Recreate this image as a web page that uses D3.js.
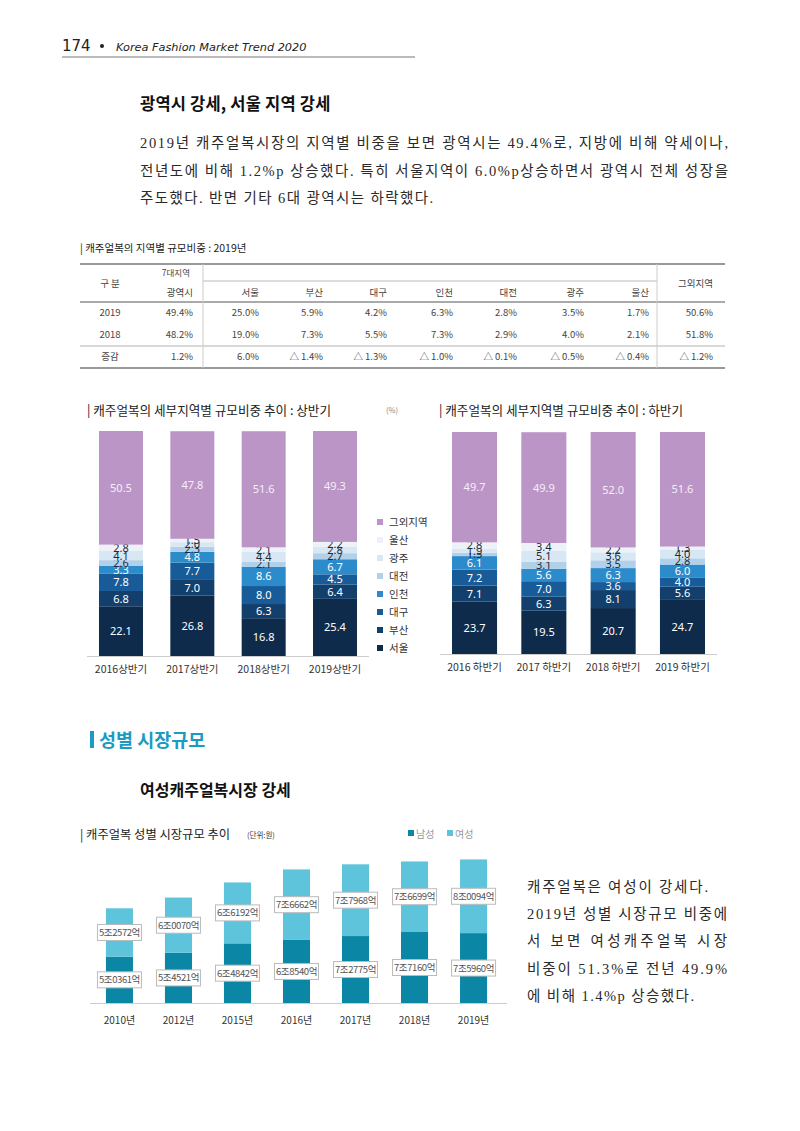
<!DOCTYPE html>
<html><head><meta charset="utf-8">
<script src="https://cdn.jsdelivr.net/npm/d3@7"></script>
<style>
body{margin:0;background:#fff;}
svg{display:block;}
.kr{font-family:"Noto Sans CJK KR","Noto Sans",sans-serif;}
.ser{font-family:"Liberation Serif","Noto Sans CJK KR",serif;}
</style></head>
<body>
<svg id="page" width="800" height="1131"></svg>
<script>
// ---------- DATA ----------
const regions = ["서울","부산","대구","인천","대전","광주","울산","그외지역"];
const h1Periods = ["2016상반기","2017상반기","2018상반기","2019상반기"];
const h1_2016 = [22.1, 6.8, 7.8, 3.3, 2.6, 4.1, 2.8, 50.5];
const h1_2017 = [26.8, 7.0, 7.7, 4.8, 2.3, 2.0, 1.5, 47.8];
const h1_2018 = [16.8, 6.3, 8.0, 8.6, 2.1, 4.4, 2.1, 51.6];
const h1_2019 = [25.4, 6.4, 4.5, 6.7, 2.7, 2.8, 2.2, 49.3];
const h2Periods = ["2016 하반기","2017 하반기","2018 하반기","2019 하반기"];
const h2_2016 = [23.7, 7.1, 7.2, 6.1, 1.5, 1.9, 2.8, 49.7];
const h2_2017 = [19.5, 6.3, 7.0, 5.6, 3.1, 5.1, 3.4, 49.9];
const h2_2018 = [20.7, 8.1, 3.6, 6.3, 3.5, 3.6, 2.2, 52.0];
const h2_2019 = [24.7, 5.6, 4.0, 6.0, 2.8, 4.0, 1.3, 51.6];

const tableCols = ["광역시","서울","부산","대구","인천","대전","광주","울산","그외지역"];
const row2019 = ["49.4%","25.0%","5.9%","4.2%","6.3%","2.8%","3.5%","1.7%","50.6%"];
const row2018 = ["48.2%","19.0%","7.3%","5.5%","7.3%","2.9%","4.0%","2.1%","51.8%"];
const rowChange = ["1.2%","6.0%","△ 1.4%","△ 1.3%","△ 1.0%","△ 0.1%","△ 0.5%","△ 0.4%","△ 1.2%"];

const genderYears = ["2010년","2012년","2015년","2016년","2017년","2018년","2019년"];
const maleValues = [50361, 54521, 64842, 68540, 72775, 77160, 75960];   // 억원
const femaleValues = [52572, 60070, 66192, 76662, 77968, 76699, 80094]; // 억원

// ---------- STYLE ----------
const regionColors = ["#0f2b4c","#123f6b","#175c98","#2c8bcb","#b1d0e9","#d8e7f4","#edf2f8","#bb95c6"];
const regionText = ["#fff","#fff","#fff","#fff","#1d2b3c","#1d2b3c","#1d2b3c","#f6eef9"];

const svg = d3.select("#page");

// ---------- HEADER ----------
svg.append("text").attr("x",62).attr("y",51).attr("font-family","DejaVu Sans").attr("font-size",15).attr("fill","#222").text("174");
svg.append("circle").attr("cx",102).attr("cy",46).attr("r",2).attr("fill","#222");
svg.append("text").attr("x",116).attr("y",51).attr("font-family","DejaVu Sans").attr("font-style","italic").attr("font-size",11.3).attr("fill","#222").text("Korea Fashion Market Trend 2020");
svg.append("line").attr("x1",62).attr("x2",415).attr("y1",57).attr("y2",57).attr("stroke","#777").attr("stroke-width",1);

// ---------- HEADING + PARAGRAPH ----------
svg.append("text").attr("class","kr").attr("x",140).attr("y",110).attr("font-size",16.5).attr("font-weight","bold").attr("letter-spacing",0.2).attr("fill","#111").text("광역시 강세, 서울 지역 강세");
const para1 = [
  {t:"2019년 캐주얼복시장의 지역별 비중을 보면 광역시는 49.4%로, 지방에 비해 약세이나,", w:588},
  {t:"전년도에 비해 1.2%p 상승했다. 특히 서울지역이 6.0%p상승하면서 광역시 전체 성장을", w:588},
  {t:"주도했다. 반면 기타 6대 광역시는 하락했다.", w:293}
];
para1.forEach((l,i)=>{
  svg.append("text").attr("class","ser").attr("x",140).attr("y",148+i*27.5).attr("font-size",14.5).attr("fill","#2a2a2a")
    .attr("textLength",l.w).attr("lengthAdjust","spacing").text(l.t);
});

// ---------- TABLE ----------
svg.append("text").attr("class","kr").attr("x",80).attr("y",252).attr("font-size",10.5).attr("fill","#222").text("| 캐주얼복의 지역별 규모비중   : 2019년");
const tg = svg.append("g").attr("class","kr").attr("font-size",9.5).attr("fill","#444");
const colRight = [193,259,323,387,453,517,584,649,713];
tg.append("line").attr("x1",80).attr("x2",725).attr("y1",264).attr("y2",264).attr("stroke","#999").attr("stroke-width",2);
tg.append("line").attr("x1",203).attr("x2",657).attr("y1",281).attr("y2",281).attr("stroke","#bbb").attr("stroke-width",1);
tg.append("line").attr("x1",80).attr("x2",725).attr("y1",302).attr("y2",302).attr("stroke","#aaa").attr("stroke-width",2);
tg.append("line").attr("x1",80).attr("x2",725).attr("y1",346).attr("y2",346).attr("stroke","#ccc").attr("stroke-width",1.5);
tg.append("line").attr("x1",80).attr("x2",725).attr("y1",368).attr("y2",368).attr("stroke","#999").attr("stroke-width",2);
[203,657].forEach(x=>tg.append("line").attr("x1",x).attr("x2",x).attr("y1",264).attr("y2",368).attr("stroke","#ccc").attr("stroke-width",1));
tg.append("text").attr("x",110).attr("y",287).attr("text-anchor","middle").text("구 분");
tg.append("text").attr("x",190).attr("y",276).attr("text-anchor","end").attr("font-size",8.5).text("7대지역");
tableCols.forEach((c,i)=>{
  const y = (i===8)?287:296;
  tg.append("text").attr("x",colRight[i]).attr("y",y).attr("text-anchor","end").text(c);
});
[["2019",row2019,316],["2018",row2018,338],["증감",rowChange,360]].forEach(([lab,row,y])=>{
  tg.append("text").attr("x",110).attr("y",y).attr("text-anchor","middle").text(lab);
  row.forEach((v,i)=>tg.append("text").attr("x",colRight[i]).attr("y",y).attr("text-anchor","end").text(v));
});

// ---------- STACKED CHARTS ----------
function stackedChart(periods, rows, x0, x1, pin, pout, yTop, yBot, title, tx) {
  const g = svg.append("g");
  const data = periods.map((p,i)=>{const o={period:p}; regions.forEach((r,j)=>o[r]=rows[i][j]); return o;});
  const series = d3.stack().keys(regions)(data);
  const x = d3.scaleBand().domain(periods).range([x0,x1]).paddingInner(pin).paddingOuter(pout);
  const y = d3.scaleLinear().domain([0,100]).range([yBot,yTop]);
  series.forEach((s,k)=>{
    g.selectAll(null).data(s).enter().append("rect")
      .attr("x",d=>x(d.data.period)).attr("width",x.bandwidth())
      .attr("y",d=>y(d[1])).attr("height",d=>y(d[0])-y(d[1]))
      .attr("fill",regionColors[k]);
    g.selectAll(null).data(s).enter().append("text")
      .attr("x",d=>x(d.data.period)+x.bandwidth()/2)
      .attr("y",d=>(y(d[0])+y(d[1]))/2+4)
      .attr("text-anchor","middle").attr("font-family","Noto Sans, sans-serif").attr("font-size",11)
      .attr("fill",regionText[k])
      .text(d=>d3.format(".1f")(d[1]-d[0]));
  });
  g.append("line").attr("x1",x0).attr("x2",x1).attr("y1",yBot+0.5).attr("y2",yBot+0.5).attr("stroke","#ccc");
  const ax = g.append("g").attr("transform",`translate(0,${yBot})`).call(d3.axisBottom(x).tickSize(0).tickPadding(10));
  ax.select(".domain").remove();
  ax.selectAll("text").attr("class","kr").attr("font-size",10.5).attr("fill","#333");
  svg.append("text").attr("class","kr").attr("x",tx).attr("y",415).attr("font-size",12.6).attr("fill","#222").text(title);
}
stackedChart(h1Periods,[h1_2016,h1_2017,h1_2018,h1_2019],87,369,0.383,0.168,431,656,"| 캐주얼복의  세부지역별 규모비중 추이 : 상반기",87);
stackedChart(h2Periods,[h2_2016,h2_2017,h2_2018,h2_2019],440,717,0.35,0.173,432,654,"| 캐주얼복의  세부지역별 규모비중 추이 : 하반기",439);
svg.append("text").attr("class","kr").attr("x",386).attr("y",413).attr("font-size",7.5).attr("fill","#888").text("(%)");

// legend
const lg = svg.append("g");
regions.slice().reverse().forEach((r,i)=>{
  const k = regions.length-1-i;
  lg.append("rect").attr("x",377).attr("y",519+i*18).attr("width",6).attr("height",6).attr("fill",regionColors[k]);
  lg.append("text").attr("class","kr").attr("x",389).attr("y",526+i*18).attr("font-size",10.5).attr("fill","#333").text(r);
});

// ---------- SECTION ----------
svg.append("rect").attr("x",90).attr("y",731).attr("width",4).attr("height",17).attr("fill","#1b9bc2");
svg.append("text").attr("class","kr").attr("x",99).attr("y",747).attr("font-size",18.5).attr("font-weight","bold").attr("fill","#1b9bc2").text("성별 시장규모");
svg.append("text").attr("class","kr").attr("x",140).attr("y",796).attr("font-size",16).attr("font-weight","bold").attr("fill","#111").text("여성캐주얼복시장 강세");

// ---------- GENDER CHART ----------
svg.append("text").attr("class","kr").attr("x",80).attr("y",839).attr("font-size",12.3).attr("fill","#222").text("| 캐주얼복 성별 시장규모 추이");
svg.append("text").attr("class","kr").attr("x",247).attr("y",838).attr("font-size",7.5).attr("fill","#333").text("(단위:원)");
[["남성","#0b86a4",408],["여성","#5ec4dc",447]].forEach(([t,c,x])=>{
  svg.append("rect").attr("x",x).attr("y",830).attr("width",6).attr("height",6).attr("fill",c);
  svg.append("text").attr("class","kr").attr("x",x+8).attr("y",838).attr("font-size",10).attr("fill","#999").text(t);
});
const gx = d3.scaleBand().domain(genderYears).range([90,503]).paddingInner(0.542).paddingOuter(0.27);
const gy = d3.scaleLinear().domain([0,160000]).range([1003,855.8]);
const gData = genderYears.map((yr,i)=>({yr, m:maleValues[i], f:femaleValues[i]}));
const fmt = v => `${Math.floor(v/10000)}조${String(v%10000).padStart(4,"0")}억`;
const gg = svg.append("g");
gData.forEach(d=>{
  const bx = gx(d.yr), bw = gx.bandwidth();
  gg.append("rect").attr("x",bx).attr("width",bw).attr("y",gy(d.m)).attr("height",gy(0)-gy(d.m)).attr("fill","#0b86a4");
  gg.append("rect").attr("x",bx).attr("width",bw).attr("y",gy(d.m+d.f)).attr("height",gy(d.m)-gy(d.m+d.f)).attr("fill","#5ec4dc");
});
gData.forEach(d=>{
  const cx = gx(d.yr)+gx.bandwidth()/2;
  [[d.m,(gy(0)+gy(d.m))/2],[d.f,(gy(d.m)+gy(d.m+d.f))/2]].forEach(([v,cy])=>{
    gg.append("rect").attr("x",cx-22).attr("y",cy-8).attr("width",44).attr("height",16).attr("fill","#fff").attr("stroke","#bbb").attr("stroke-width",1);
    gg.append("text").attr("class","kr").attr("x",cx).attr("y",cy+3.5).attr("text-anchor","middle").attr("font-size",9.5).attr("fill","#555").attr("letter-spacing",-0.4).text(fmt(v));
  });
});
gg.append("line").attr("x1",90).attr("x2",507).attr("y1",1003.5).attr("y2",1003.5).attr("stroke","#ccc");
const gax = gg.append("g").attr("transform","translate(0,1003)").call(d3.axisBottom(gx).tickSize(0).tickPadding(14));
gax.select(".domain").remove();
gax.selectAll("text").attr("class","kr").attr("font-size",10).attr("fill","#333");

// ---------- SIDE TEXT ----------
const para2 = [
  {t:"캐주얼복은 여성이 강세다.", w:181},
  {t:"2019년 성별 시장규모 비중에", w:200},
  {t:"서 보면 여성캐주얼복 시장", w:200},
  {t:"비중이 51.3%로 전년 49.9%", w:200},
  {t:"에 비해 1.4%p 상승했다.", w:167}
];
para2.forEach((l,i)=>{
  svg.append("text").attr("class","ser").attr("x",527).attr("y",892+i*27.2).attr("font-size",14.5).attr("fill","#2a2a2a")
    .attr("textLength",l.w).attr("lengthAdjust","spacing").text(l.t);
});
</script>
</body></html>
